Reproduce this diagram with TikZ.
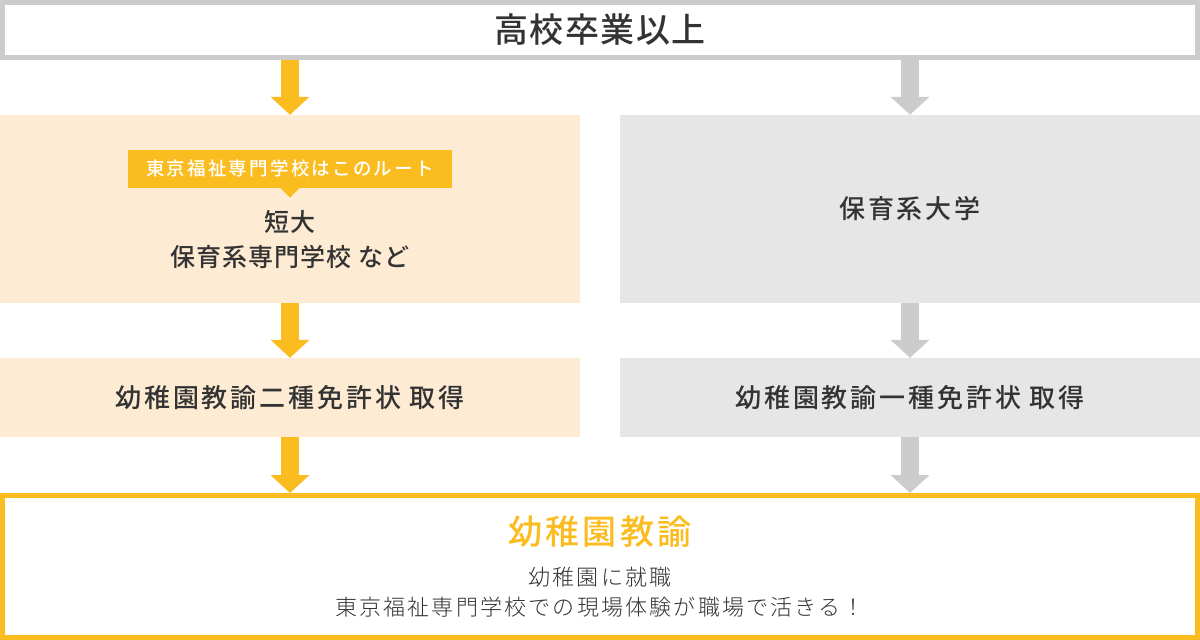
\documentclass[tikz,border=0pt]{standalone}
\usepackage{fontspec}
\setmainfont{Noto Sans CJK JP}[BoldFont={Noto Sans CJK JP Medium}]
\newfontfamily\thinfnt{Noto Sans CJK JP Light}
\usetikzlibrary{arrows.meta}

\definecolor{orng}{HTML}{FBBC1F}
\definecolor{peach}{HTML}{FDEBD4}
\definecolor{lgray}{HTML}{E6E6E6}
\definecolor{mgray}{HTML}{CCCCCC}
\definecolor{ink}{HTML}{333333}

% size / baseline / letter spacing
\newcommand\jfnt[3]{\fontsize{#1}{#2}\selectfont\addfontfeatures{LetterSpace=#3}}

\begin{document}
\begin{tikzpicture}[x=1pt,y=-1pt,text=ink,
  panel/.style={fill=#1,inner sep=0pt,minimum width=580pt},
  frame/.style={draw=#1,line width=5pt,inner sep=0pt,minimum width=1195pt},
  flow/.style={#1,line width=18pt,-{Triangle[width=38pt,length=18pt]}}]
  \useasboundingbox (0,0) rectangle (1200,640);
  % Start
  \node[frame=mgray,minimum height=55pt,font=\bfseries\jfnt{34}{40}{4}] (hs) at (600,30) {高校卒業以上};
  % left route
  \node[panel=peach,minimum height=188pt] (sc) at (290,209) {};
  \node[panel=peach,minimum height=79pt] (lic2) at (290,397.5) {};
  % right route
  \node[panel=lgray,minimum height=188pt] (univ) at (910,209) {};
  \node[panel=lgray,minimum height=79pt] (lic1) at (910,397.5) {};
  % goal
  \node[frame=orng,minimum height=142pt] (goal) at (600,566.5) {};
  % texts
  \node[fill=orng,text=white,inner sep=0pt,minimum width=324pt,minimum height=38pt,
        font=\bfseries\jfnt{18.5}{22}{12}] (route) at (290,168.5) {東京福祉専門学校はこのルート};
  \fill[orng] ([xshift=-10pt]route.south) -- ([xshift=10pt]route.south) -- ++(-10pt,-10pt) -- cycle;
  \node[align=center,font=\bfseries\jfnt{25}{35}{4}] (sctxt) at (290,240) {短大\\保育系専門学校 など};
  \node[font=\bfseries\jfnt{26}{30}{11}] (univtxt) at (univ) {保育系大学};
  \node[font=\bfseries\jfnt{26}{30}{11}] (lic2txt) at (lic2) {幼稚園教諭二種免許状 取得};
  \node[font=\bfseries\jfnt{26}{30}{11}] (lic1txt) at (lic1) {幼稚園教諭一種免許状 取得};
  \node[text=orng,font=\bfseries\jfnt{34}{40}{10}] (goalttl) at (600,532) {幼稚園教諭};
  \node[align=center,font=\thinfnt\jfnt{22}{30}{10}] (goaltxt) at (600,592) {幼稚園に就職\\東京福祉専門学校での現場体験が職場で活きる！};
  % arrows
  \draw[flow=orng] (hs.south -| sc.north) -- (sc.north);
  \draw[flow=orng] (sc.south) -- (lic2.north);
  \draw[flow=orng] (lic2.south) -- (lic2.south |- goal.north);
  \draw[flow=mgray] (hs.south -| univ.north) -- (univ.north);
  \draw[flow=mgray] (univ.south) -- (lic1.north);
  \draw[flow=mgray] (lic1.south) -- (lic1.south |- goal.north);
\end{tikzpicture}
\end{document}
